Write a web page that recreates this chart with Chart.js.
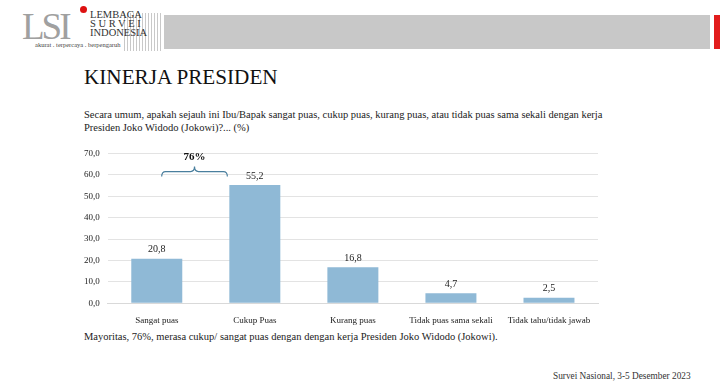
<!DOCTYPE html>
<html><head><meta charset="utf-8">
<script src="https://cdn.jsdelivr.net/npm/chart.js@4/dist/chart.umd.min.js"></script>
<style>
html,body{margin:0;padding:0;background:#fff;}
body{width:720px;height:387px;position:relative;overflow:hidden;font-family:"Liberation Serif","Times New Roman","DejaVu Serif",serif;color:#111;}
.abs{position:absolute;white-space:nowrap;}
#greybar{left:164px;top:15px;width:546px;height:34px;background:#c8c8c8;}
#redbar{left:714px;top:15px;width:6px;height:34px;background:#e21d1d;}
#hatch{left:124px;top:13px;width:38px;height:38px;background:repeating-linear-gradient(90deg,#bbb 0 1px,#fff 1px 3px);opacity:.8}
#logo{left:22px;top:5px;font-size:37px;color:#a0a0a0;letter-spacing:-3px;}
#dot{left:80px;top:6px;width:7px;height:7px;border-radius:50%;background:#d11;}
#lsi{left:90px;top:10px;font-size:10.5px;line-height:9px;color:#333;}
#tag{left:35px;top:41px;font-size:6.5px;color:#444;}
#title{left:84px;top:65px;font-size:21.2px;color:#111;}
#q{left:84px;top:108px;font-size:10.5px;line-height:13px;color:#222;}
#foot{left:84px;top:331px;font-size:10.5px;color:#222;}
#src{left:553px;top:371px;font-size:9.3px;color:#333;}
#wrap{left:76px;top:140px;width:530px;height:190px;}
</style></head>
<body>
<div class="abs" id="greybar"></div>
<div class="abs" id="redbar"></div>
<div class="abs" id="hatch"></div>
<div class="abs" id="logo">LSI</div>
<div class="abs" id="dot"></div>
<div class="abs" id="lsi">LEMBAGA<br>S U R V E I<br>INDONESIA</div>
<div class="abs" id="tag">akurat . terpercaya . berpengaruh</div>
<div class="abs" id="title">KINERJA PRESIDEN</div>
<div class="abs" id="q">Secara umum, apakah sejauh ini Ibu/Bapak sangat puas, cukup puas, kurang puas, atau tidak puas sama sekali dengan kerja<br>Presiden Joko Widodo (Jokowi)?... (%)</div>
<div class="abs" id="wrap"><canvas id="c" width="530" height="190"></canvas></div>
<div class="abs" id="foot">Mayoritas, 76%, merasa cukup/ sangat puas dengan dengan kerja Presiden Joko Widodo (Jokowi).</div>
<div class="abs" id="src">Survei Nasional, 3-5 Desember 2023</div>
<script>
const categories = ["Sangat puas","Cukup Puas","Kurang puas","Tidak puas sama sekali","Tidak tahu/tidak jawab"];
const values = [20.8, 55.2, 16.8, 4.7, 2.5];
const yTicks = [0,10,20,30,40,50,60,70];
const bracketLabel = "76%";
const bracketValue = 61.5;

const FONT = '"Liberation Serif", "Times New Roman", serif';
const fmt = v => v.toFixed(1).replace('.', ',');

const labelPlugin = {
  id: 'labels',
  afterDatasetsDraw(chart) {
    const ctx = chart.ctx;
    const meta = chart.getDatasetMeta(0);
    ctx.save();
    ctx.font = '10px ' + FONT;
    ctx.fillStyle = '#222';
    ctx.textAlign = 'center';
    ctx.textBaseline = 'bottom';
    meta.data.forEach((bar, i) => {
      ctx.fillText(fmt(values[i]), bar.x, bar.y - 4);
    });
    const xs = chart.scales.x, ys = chart.scales.y;
    const step = xs.getPixelForValue(1) - xs.getPixelForValue(0);
    const x0 = xs.getPixelForValue(0) + step * 0.05;
    const x1 = xs.getPixelForValue(1) - step * 0.28;
    const xm = (x0 + x1) / 2;
    const yb = ys.getPixelForValue(bracketValue);
    ctx.strokeStyle = '#4a7f9e';
    ctx.lineWidth = 1.2;
    ctx.beginPath();
    ctx.moveTo(x0, yb + 5);
    ctx.quadraticCurveTo(x0, yb, x0 + 4, yb);
    ctx.lineTo(xm - 4, yb);
    ctx.quadraticCurveTo(xm, yb, xm, yb - 5);
    ctx.quadraticCurveTo(xm, yb, xm + 4, yb);
    ctx.lineTo(x1 - 4, yb);
    ctx.quadraticCurveTo(x1, yb, x1, yb + 5);
    ctx.stroke();
    ctx.font = 'bold 11px ' + FONT;
    ctx.fillStyle = '#111';
    ctx.fillText(bracketLabel, xm, yb - 9);
    ctx.restore();
  }
};

new Chart(document.getElementById('c'), {
  type: 'bar',
  data: { labels: categories, datasets: [{ data: values, backgroundColor: '#8fb9d6', barPercentage: 0.52, categoryPercentage: 1.0 }] },
  options: {
    responsive: false, animation: false,
    layout: { padding: { top: 8, right: 8, left: 0, bottom: 0 } },
    plugins: { legend: { display: false }, tooltip: { enabled: false } },
    scales: {
      x: {
        grid: { display: false },
        border: { color: '#d9d9d9' },
        ticks: { color: '#222', font: { family: FONT, size: 9 }, maxRotation: 0, autoSkip: false, padding: 4 }
      },
      y: {
        min: 0, max: 70,
        afterBuildTicks(axis) { axis.ticks = yTicks.map(v => ({ value: v })); },
        grid: { color: '#e3e3e3', drawTicks: false },
        border: { display: false },
        ticks: { color: '#222', font: { family: FONT, size: 9 }, padding: 8, callback: v => fmt(v) }
      }
    }
  },
  plugins: [labelPlugin]
});
</script>
</body></html>
